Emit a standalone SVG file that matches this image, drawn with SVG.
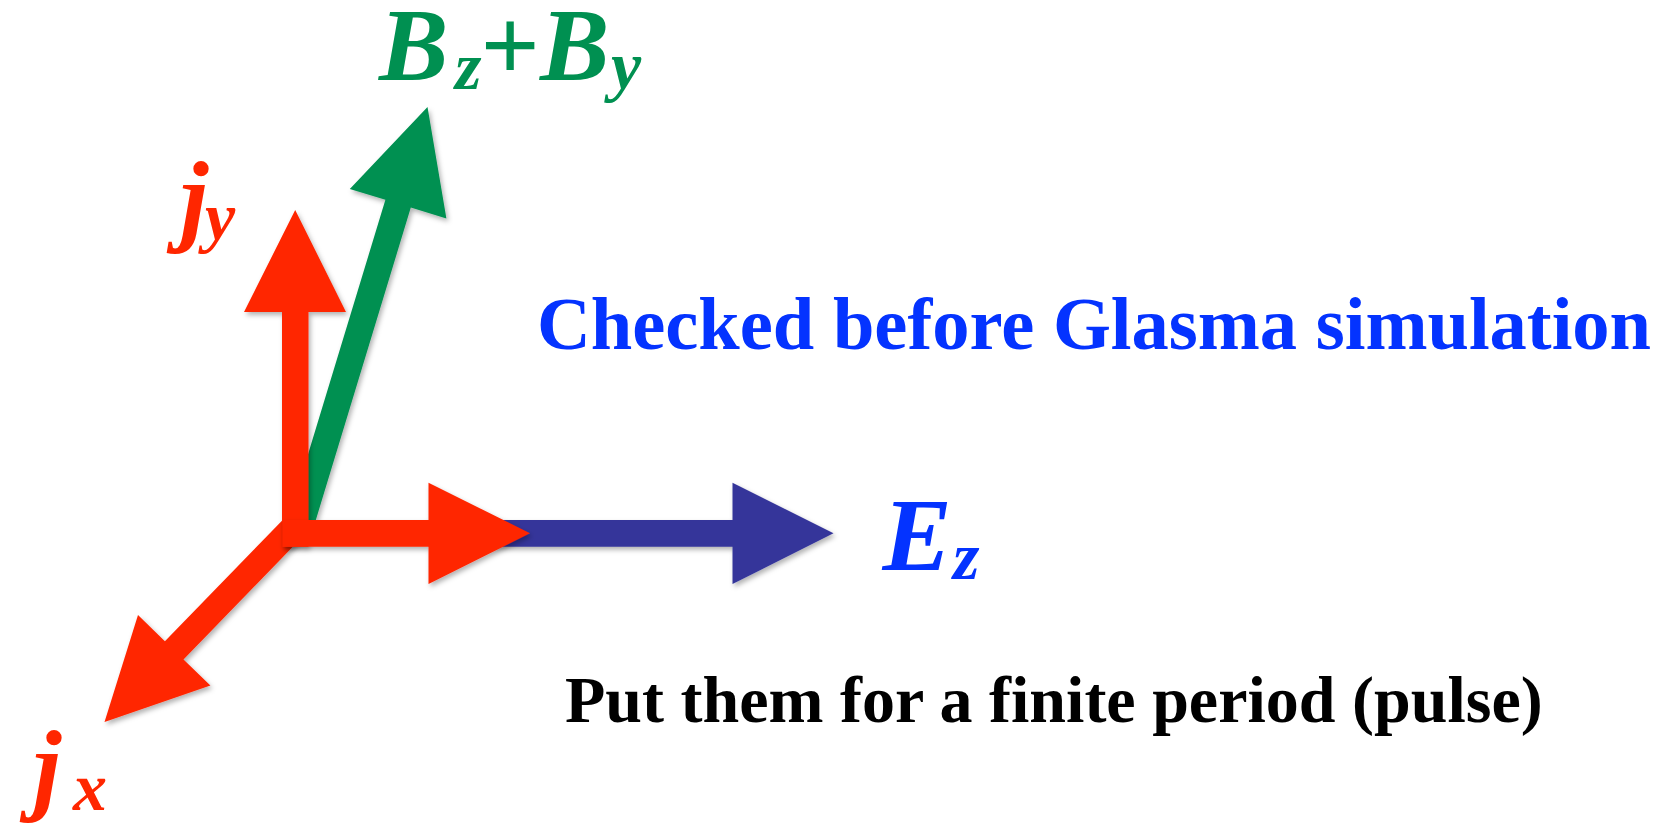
<svg xmlns="http://www.w3.org/2000/svg" width="1672" height="824" viewBox="0 0 1672 824">
<defs>
<filter id="sh" x="-20%" y="-20%" width="140%" height="140%">
<feDropShadow dx="2" dy="3" stdDeviation="2.5" flood-color="#000" flood-opacity="0.3"/>
</filter>
<style>
.red{fill:#FF2600}
.grn{fill:#009051}
.blu{fill:#35369A}
.lab{font-family:"Liberation Serif","Times New Roman",serif;font-weight:bold;font-style:italic}
.up{font-style:normal}
.txt{font-family:"Liberation Serif","Times New Roman",serif;font-weight:bold}
</style>
</defs>
<rect width="1672" height="824" fill="#fff"/>
<g id="connectors">
<polygon id="Ez-arrow" class="blu" filter="url(#sh)" points="470,520 732.5,520 732.5,482.7 833.5,533.3 732.5,584 732.5,546.7 470,546.7"/>
<polygon id="B-arrow" class="grn" filter="url(#sh)" points="287.1,523.1 385.4,199.8 349.8,189 427.5,107 446.4,218.4 410.8,207.6 312.5,530.9"/>
<polygon id="jx-arrow" class="red" filter="url(#sh)" points="282.7,519.9 164.9,641.2 138,615.1 104.5,722 210.4,685.5 183.5,659.4 301.3,538.1"/>
<polygon id="jy-arrow" class="red" filter="url(#sh)" points="282,546.7 282,312 244,312 295.2,210 346,312 308.5,312 308.5,546.7"/>
<polygon id="jz-arrow" class="red" filter="url(#sh)" points="283,520 428.5,520 428.5,482.7 530,533.3 428.5,584 428.5,546.7 283,546.7"/>
</g>
<g id="label-B">
<text class="lab" fill="#009051" font-size="104" y="80"><tspan x="379">B</tspan><tspan x="455" y="89" font-size="68">z</tspan><tspan class="up" x="480.6" y="80">+</tspan><tspan x="540" y="80">B</tspan><tspan x="611" y="89" font-size="68">y</tspan></text>
</g>
<g id="label-jy">
<text class="lab" fill="#FF2600" font-size="102" y="232"><tspan x="180">j</tspan><tspan x="205" y="240" font-size="68">y</tspan></text>
</g>
<g id="label-jx">
<text class="lab" fill="#FF2600" font-size="102" y="801"><tspan x="33">j</tspan><tspan x="73" y="810" font-size="68">x</tspan></text>
</g>
<g id="label-Ez">
<text class="lab" fill="#0433FF" font-size="104" y="570"><tspan x="882.5">E</tspan><tspan x="953" y="579" font-size="68">z</tspan></text>
</g>
<g id="title">
<text class="txt" fill="#0433FF" font-size="74.5" x="537" y="349">Checked before Glasma simulation</text>
</g>
<g id="note">
<text class="txt" fill="#000" font-size="66" x="565" y="722">Put them for a finite period (pulse)</text>
</g>
</svg>
